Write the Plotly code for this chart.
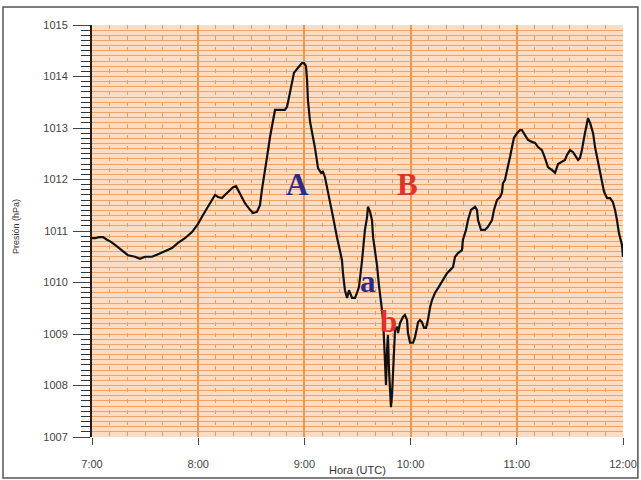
import plotly.graph_objects as go

# minutes after 07:00 UTC
minutos = [0, 1.7, 4.0, 6.2, 8.5, 10.7, 13.0, 16.9, 20.3, 24.3, 27.1, 29.9, 33.9, 37.3, 41.2, 45.2, 48.6,
           52.5, 56.5, 59.9, 62.7, 65.0, 67.8, 69.5, 71.2, 73.4, 75.1, 78.0, 79.7, 81.4, 82.5, 84.7, 86.4,
           89.3, 91.0, 93.2, 94.9, 96.0, 97.7, 98.9, 100.6, 102.3, 103.4, 106.2, 109.0, 110.2, 111.9, 113.0,
           114.1, 116.4, 118.6, 119.8, 120.9, 121.5, 122.0, 123.2, 124.9, 126.0, 127.7, 129.4, 130.5, 131.6,
           133.3, 135.6, 136.2, 138.4, 140.1, 141.2, 141.8, 142.9, 144.1, 145.2, 146.9, 148.6, 149.7, 150.8,
           152.5, 154.2, 155.4, 155.9, 157.1, 158.2, 158.8, 159.9, 161.0, 162.1, 163.3, 164.4, 165.0, 165.5,
           166.1, 166.7, 167.2, 167.8, 168.4, 168.9, 169.5, 170.1, 170.6, 171.2, 172.3, 172.9, 174.0, 175.7,
           176.8, 178.0, 178.5, 179.7, 181.4, 182.5, 183.6, 184.2, 185.3, 186.4, 187.6, 188.7, 189.8, 191.0,
           192.1, 193.8, 195.5, 196.6, 198.3, 200.6, 202.3, 204.0, 205.1, 206.8, 209.0, 209.6, 211.3, 212.4,
           214.1, 215.3, 216.4, 217.5, 218.1, 219.8, 222.0, 223.7, 226.0, 227.1, 228.8, 230.5, 231.6, 232.2,
           233.3, 234.5, 235.0, 236.2, 237.3, 238.4, 240.1, 241.8, 242.9, 244.6, 246.3, 248.6, 250.3, 252.0,
           254.2, 255.9, 257.6, 259.9, 261.6, 263.3, 265.5, 267.2, 268.4, 270.1, 271.8, 272.9, 274.6, 275.7,
           276.8, 278.0, 279.7, 280.2, 281.4, 283.1, 284.2, 285.9, 288.1, 289.3, 291.0, 292.7, 294.3, 295.5,
           296.6, 297.7, 299.4, 300.0]

presion = [1010.86, 1010.86, 1010.88, 1010.88, 1010.83, 1010.79, 1010.73, 1010.63, 1010.53, 1010.50, 1010.46,
           1010.50, 1010.50, 1010.55, 1010.61, 1010.67, 1010.77, 1010.86, 1010.98, 1011.14, 1011.31, 1011.45,
           1011.60, 1011.70, 1011.66, 1011.64, 1011.70, 1011.80, 1011.85, 1011.87, 1011.80, 1011.66, 1011.54,
           1011.41, 1011.35, 1011.37, 1011.50, 1011.80, 1012.13, 1012.44, 1012.83, 1013.16, 1013.35, 1013.35,
           1013.35, 1013.41, 1013.68, 1013.87, 1014.07, 1014.17, 1014.26, 1014.26, 1014.20, 1013.93, 1013.54,
           1013.12, 1012.81, 1012.61, 1012.22, 1012.13, 1012.15, 1012.05, 1011.76, 1011.41, 1011.27, 1010.88,
           1010.57, 1010.44, 1010.18, 1009.85, 1009.70, 1009.85, 1009.70, 1009.70, 1009.80, 1009.91, 1010.40,
           1011.02, 1011.27, 1011.47, 1011.37, 1011.21, 1010.88, 1010.63, 1010.34, 1009.95, 1009.60, 1009.31,
           1008.88, 1008.40, 1008.01, 1008.69, 1008.98, 1008.30, 1007.72, 1007.58, 1007.82, 1008.30, 1008.75,
           1009.08, 1009.14, 1009.02, 1009.21, 1009.33, 1009.37, 1009.27, 1009.02, 1008.83, 1008.83, 1008.94,
           1009.12, 1009.23, 1009.27, 1009.23, 1009.12, 1009.12, 1009.27, 1009.52, 1009.66, 1009.80, 1009.89,
           1009.95, 1010.05, 1010.18, 1010.24, 1010.30, 1010.50, 1010.57, 1010.63, 1010.83, 1011.02, 1011.21,
           1011.41, 1011.45, 1011.47, 1011.41, 1011.21, 1011.02, 1011.02, 1011.08, 1011.21, 1011.41, 1011.60,
           1011.66, 1011.74, 1011.93, 1011.99, 1012.18, 1012.28, 1012.44, 1012.63, 1012.81, 1012.90, 1012.96,
           1012.96, 1012.86, 1012.77, 1012.73, 1012.71, 1012.63, 1012.57, 1012.42, 1012.24, 1012.18, 1012.13,
           1012.30, 1012.34, 1012.38, 1012.48, 1012.57, 1012.53, 1012.48, 1012.38, 1012.42, 1012.57, 1012.81,
           1013.16, 1013.19, 1013.10, 1012.90, 1012.63, 1012.32, 1011.99, 1011.76, 1011.64, 1011.64, 1011.56,
           1011.41, 1011.21, 1010.96, 1010.73, 1010.50]

hora_ticks = [7, 8, 9, 10, 11, 12]
hora_labels = ["7:00", "8:00", "9:00", "10:00", "11:00", "12:00"]
presion_ticks = [1007, 1008, 1009, 1010, 1011, 1012, 1013, 1014, 1015]

# region labels: text, minutes after 07:00, pressure, colour
etiquetas = ["A", "B", "a", "b"]
etiq_min = [116.0, 178.5, 156.0, 167.5]
etiq_p = [1011.91, 1011.91, 1010.01, 1009.25]
etiq_col = ["#2d2a88", "#e2302a", "#2d2a88", "#e2302a"]

horas = [7 + m / 60 for m in minutos]

fig = go.Figure()
fig.add_trace(go.Scatter(x=horas, y=presion, mode="lines",
                         line=dict(color="#111111", width=2.2), showlegend=False,
                         hoverinfo="skip"))

for t, m, p, c in zip(etiquetas, etiq_min, etiq_p, etiq_col):
    fig.add_annotation(x=7 + m / 60, y=p, text=f"<b>{t}</b>", showarrow=False,
                       font=dict(family="Liberation Serif, Times New Roman, serif", size=31, color=c))

tickfont = dict(family="Liberation Sans, Arial, sans-serif", size=11, color="#444444")

fig.update_layout(
    width=641, height=480,
    margin=dict(l=92, r=18, t=25, b=43, autoexpand=False),
    paper_bgcolor="white",
    plot_bgcolor="#fcdcc2",
    xaxis=dict(range=[7, 12], tickvals=hora_ticks, ticktext=hora_labels, automargin=False,
               ticks="outside", ticklen=7, tickcolor="#444444", tickwidth=1,
               tickfont=tickfont, ticklabelstandoff=10,
               showgrid=True, gridcolor="#ef9750", gridwidth=1.5,
               minor=dict(dtick=1 / 6, showgrid=True, gridcolor="#ee9a58", gridwidth=1,
                          griddash="4px,7px", ticks=""),
               zeroline=False, showline=False),
    yaxis=dict(range=[1007, 1015], tickvals=presion_ticks, automargin=False,
               ticks="outside", ticklen=17, tickcolor="#444444", tickwidth=1,
               tickfont=tickfont, ticklabelstandoff=3,
               showgrid=True, gridcolor="#f2a263", gridwidth=1,
               minor=dict(dtick=0.1, tick0=1007, ticks="outside", ticklen=9, tickcolor="#333333",
                          tickwidth=1, showgrid=True, gridcolor="#f2a263", gridwidth=1),
               zeroline=False, showline=True, linecolor="#2a1a10", linewidth=2),
    annotations=list(fig.layout.annotations) + [
        dict(text="Hora (UTC)", xref="paper", yref="paper", x=0.5, y=-0.08,
             xanchor="center", yanchor="middle", showarrow=False,
             font=dict(family="Liberation Sans, Arial, sans-serif", size=11, color="#333333")),
        dict(text="Presión (hPa)", xref="paper", yref="paper", x=-0.143, y=0.51,
             xanchor="center", yanchor="middle", showarrow=False, textangle=-90,
             font=dict(family="Liberation Sans, Arial, sans-serif", size=9, color="#333333")),
    ],
    shapes=[dict(type="rect", xref="paper", yref="paper",
                 x0=-0.1676, x1=1.028, y0=-0.0995, y1=1.0437,
                 line=dict(color="#555555", width=1.5), fillcolor="rgba(0,0,0,0)", layer="below")],
)

fig.write_html("out.html", config={"displayModeBar": False},
               post_script="document.body.style.margin='0';document.body.style.padding='0';")
